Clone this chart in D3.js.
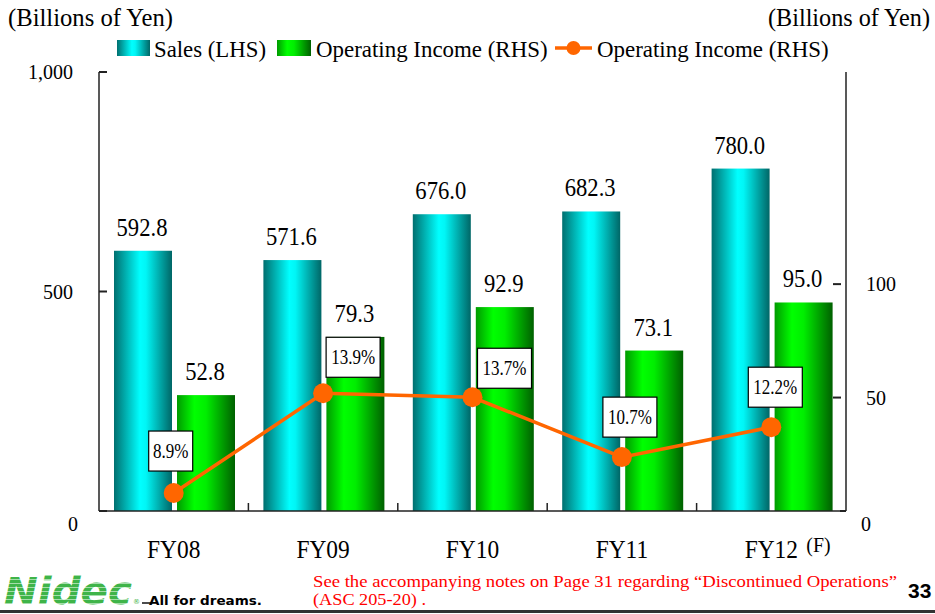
<!DOCTYPE html>
<html>
<head>
<meta charset="utf-8">
<script src="https://cdnjs.cloudflare.com/ajax/libs/d3/7.8.5/d3.min.js"></script>
<style>
  body { margin: 0; background: #fff; }
  svg { display: block; }
  text { font-family: "Liberation Serif", "Times New Roman", serif; fill: #000; }
</style>
</head>
<body>
<svg id="chart" width="935" height="614"></svg>
<script>
// data
const years = ["FY08", "FY09", "FY10", "FY11", "FY12"]
const sales = [592.8, 571.6, 676.0, 682.3, 780.0]
const opIncome = [52.8, 79.3, 92.9, 73.1, 95.0]
const opMargin = [8.9, 13.9, 13.7, 10.7, 12.2]
const leftTicks = [0, 500, 1000]
const rightTicks = [0, 50, 100]

const svg = d3.select('#chart')

const plotL = 99, plotR = 846, plotT = 72, plotB = 511

const x = d3.scaleBand().domain(years).range([plotL, plotR])
const ySales = d3.scaleLinear().domain([0, 1000]).range([plotB, plotT])
const yOp = d3.scaleLinear().domain([0, 200]).range([plotB, plotT])
// the right hand ticks on the slide don't sit exactly on the bar scale
const yRight = d3.scaleLinear().domain([0, 193.5]).range([plotB, plotT])
const yPct = d3.scaleLinear().domain([8, 30]).range([plotB, plotT])

// the slide text is a bit squeezed sideways
const squeeze = (px, py, sx) => 'translate(' + px + ',' + py + ') scale(' + sx + ',1)'

// gradients
const defs = svg.append('defs')
function grad(id, stops) {
  const g = defs.append('linearGradient').attr('id', id)
    .attr('x1', 0).attr('x2', 1).attr('y1', 0).attr('y2', 0)
  stops.forEach(s => g.append('stop').attr('offset', s[0]).attr('stop-color', s[1]))
}
grad('cyanGrad', [[0, '#006f6f'], [0.45, '#00ffff'], [0.55, '#00f6f6'], [1, '#006666']])
grad('greenGrad', [[0, '#009a00'], [0.3, '#00ff00'], [0.5, '#00ee00'], [1, '#006000']])

const stripes = defs.append('pattern').attr('id', 'stripes')
  .attr('patternUnits', 'userSpaceOnUse').attr('width', 8).attr('height', 4)
stripes.append('rect').attr('width', 8).attr('height', 4).attr('fill', '#3fb449')
stripes.append('rect').attr('y', 3).attr('width', 8).attr('height', 0.8).attr('fill', '#bfe8c2')

// header labels
svg.append('text').attr('x', 8).attr('y', 26).style('font-size', '25px')
  .attr('textLength', 165).attr('lengthAdjust', 'spacingAndGlyphs').text('(Billions of Yen)')
svg.append('text').attr('x', 768).attr('y', 26).style('font-size', '25px')
  .attr('textLength', 162).attr('lengthAdjust', 'spacingAndGlyphs').text('(Billions of Yen)')

// legend
const leg = svg.append('g').style('font-size', '24px')
leg.append('rect').attr('x', 117).attr('y', 40).attr('width', 33).attr('height', 16).attr('fill', 'url(#cyanGrad)')
leg.append('text').attr('transform', squeeze(154, 57, 0.95)).text('Sales (LHS)')
leg.append('rect').attr('x', 277).attr('y', 40).attr('width', 34).attr('height', 16).attr('fill', 'url(#greenGrad)')
leg.append('text').attr('transform', squeeze(316, 57, 0.955)).text('Operating Income (RHS)')
leg.append('line').attr('x1', 555).attr('x2', 592).attr('y1', 48).attr('y2', 48)
  .attr('stroke', '#ff6600').attr('stroke-width', 3.5)
leg.append('circle').attr('cx', 573.5).attr('cy', 48).attr('r', 7).attr('fill', '#ff6600')
leg.append('text').attr('transform', squeeze(597, 57, 0.955)).text('Operating Income (RHS)')

// bars
const barW = 58
svg.append('g').selectAll('rect')
  .data(sales)
  .enter()
  .append('rect')
  .attr('x', (d, i) => x(years[i]) + 15)
  .attr('y', d => ySales(d))
  .attr('width', barW)
  .attr('height', d => plotB - ySales(d))
  .attr('fill', 'url(#cyanGrad)')

svg.append('g').selectAll('rect')
  .data(opIncome)
  .enter()
  .append('rect')
  .attr('x', (d, i) => x(years[i]) + 78)
  .attr('y', d => yOp(d))
  .attr('width', barW)
  .attr('height', d => plotB - yOp(d))
  .attr('fill', 'url(#greenGrad)')

// bar values
svg.append('g').style('font-size', '26px').attr('text-anchor', 'middle')
  .selectAll('text')
  .data(sales)
  .enter()
  .append('text')
  .attr('transform', (d, i) => squeeze(x(years[i]) + 14 + barW / 2, ySales(d) - 15, 0.87))
  .text(d => d.toFixed(1))

svg.append('g').style('font-size', '26px').attr('text-anchor', 'middle')
  .selectAll('text')
  .data(opIncome)
  .enter()
  .append('text')
  .attr('transform', (d, i) => squeeze(x(years[i]) + 77 + barW / 2, yOp(d) - 15, 0.87))
  .text(d => d.toFixed(1))

// axes
const axisColor = '#222'
svg.append('line').attr('x1', plotL).attr('x2', plotL).attr('y1', plotT).attr('y2', plotB).attr('stroke', axisColor).attr('stroke-width', 1.5)
svg.append('line').attr('x1', plotR).attr('x2', plotR).attr('y1', plotT).attr('y2', plotB).attr('stroke', axisColor).attr('stroke-width', 1.5)
svg.append('line').attr('x1', plotL).attr('x2', plotR).attr('y1', plotB).attr('y2', plotB).attr('stroke', axisColor).attr('stroke-width', 1.5)

svg.append('g').selectAll('line')
  .data(leftTicks)
  .enter()
  .append('line')
  .attr('x1', plotL).attr('x2', plotL + 8)
  .attr('y1', d => ySales(d)).attr('y2', d => ySales(d))
  .attr('stroke', axisColor).attr('stroke-width', 2)

svg.append('g').selectAll('line')
  .data(rightTicks)
  .enter()
  .append('line')
  .attr('x1', d => d === 0 ? plotR - 6 : plotR - 13).attr('x2', d => d === 0 ? plotR : plotR - 5)
  .attr('y1', d => yRight(d)).attr('y2', d => yRight(d))
  .attr('stroke', axisColor).attr('stroke-width', 2)

svg.append('g').selectAll('line')
  .data(years.slice(1))
  .enter()
  .append('line')
  .attr('x1', d => x(d)).attr('x2', d => x(d))
  .attr('y1', plotB - 8).attr('y2', plotB)
  .attr('stroke', axisColor).attr('stroke-width', 1.5)

svg.append('g').style('font-size', '20px').attr('text-anchor', 'end')
  .selectAll('text')
  .data(leftTicks)
  .enter()
  .append('text')
  .attr('x', d => d === 0 ? 78 : 73)
  .attr('y', d => d === 0 ? ySales(d) + 20 : ySales(d) + 7)
  .text(d => d3.format(',')(d))

svg.append('g').style('font-size', '20px')
  .selectAll('text')
  .data(rightTicks)
  .enter()
  .append('text')
  .attr('x', d => d === 0 ? 861 : 866)
  .attr('y', d => d === 0 ? yRight(d) + 20 : yRight(d) + 7)
  .text(d => d)

// category labels
svg.append('g').style('font-size', '26px').attr('text-anchor', 'middle')
  .selectAll('text')
  .data(years)
  .enter()
  .append('text')
  .attr('transform', d => squeeze(x(d) + x.bandwidth() / 2, 558, 0.9))
  .text(d => d)
svg.append('text').attr('transform', squeeze(x('FY12') + x.bandwidth() / 2 + 35, 552, 0.9))
  .style('font-size', '22px').text('(F)')

// margin line
const cx = i => x(years[i]) + x.bandwidth() / 2
const line = d3.line().x((d, i) => cx(i)).y(d => yPct(d))
svg.append('path').datum(opMargin)
  .attr('d', line)
  .attr('fill', 'none')
  .attr('stroke', '#ff6600')
  .attr('stroke-width', 3.5)

svg.append('g').selectAll('circle')
  .data(opMargin)
  .enter()
  .append('circle')
  .attr('cx', (d, i) => cx(i))
  .attr('cy', d => yPct(d))
  .attr('r', 10)
  .attr('fill', '#ff6600')

// percent boxes, nudged like on the slide
const nudge = [[-3, 22], [30, 16], [32, 9], [8, 20], [4, 20]]
const boxes = svg.append('g').selectAll('g')
  .data(opMargin)
  .enter()
  .append('g')
  .attr('transform', (d, i) => 'translate(' + (cx(i) + nudge[i][0]) + ',' + (yPct(d) - nudge[i][1] - 20) + ')')
boxes.append('rect')
  .attr('x', d => d >= 10 ? -27 : -22)
  .attr('y', -20)
  .attr('width', d => d >= 10 ? 54 : 44)
  .attr('height', 40)
  .attr('fill', '#fff')
  .attr('stroke', '#000')
  .attr('stroke-width', 1.2)
boxes.append('text')
  .attr('text-anchor', 'middle')
  .attr('transform', 'translate(0,7) scale(0.83,1)')
  .style('font-size', '20.5px')
  .text(d => d.toFixed(1) + '%')

// footer
svg.append('text').attr('x', 4).attr('y', 604)
  .style('font-family', '"DejaVu Sans", sans-serif').style('font-weight', 'bold').style('font-style', 'italic')
  .style('font-size', '37px').style('fill', 'url(#stripes)')
  .attr('textLength', 128).attr('lengthAdjust', 'spacingAndGlyphs')
  .text('Nidec')
svg.append('text').attr('x', 133).attr('y', 604)
  .style('font-family', '"DejaVu Sans", sans-serif').style('font-size', '7px').style('fill', '#3fb449').text('®')
svg.append('line').attr('x1', 142).attr('x2', 152).attr('y1', 603).attr('y2', 603).attr('stroke', '#111').attr('stroke-width', 1.5)
svg.append('text').attr('x', 149).attr('y', 605)
  .style('font-family', '"DejaVu Sans", sans-serif').style('font-weight', 'bold').style('font-size', '13px')
  .attr('textLength', 113).attr('lengthAdjust', 'spacingAndGlyphs')
  .text('All for dreams.')

svg.append('text').attr('x', 313).attr('y', 587)
  .style('font-size', '16px').style('fill', '#ff0000')
  .attr('textLength', 584).attr('lengthAdjust', 'spacingAndGlyphs')
  .text('See the accompanying notes on Page 31 regarding \u201cDiscontinued Operations\u201d')
svg.append('text').attr('x', 313).attr('y', 605)
  .style('font-size', '16px').style('fill', '#ff0000')
  .attr('textLength', 113).attr('lengthAdjust', 'spacingAndGlyphs')
  .text('(ASC 205-20) .')

svg.append('text').attr('x', 908).attr('y', 598)
  .style('font-family', '"Liberation Sans", Arial, sans-serif').style('font-weight', 'bold').style('font-size', '21px')
  .text('33')

svg.append('rect').attr('x', 0).attr('y', 610).attr('width', 935).attr('height', 3).attr('fill', '#333')
</script>
</body>
</html>
